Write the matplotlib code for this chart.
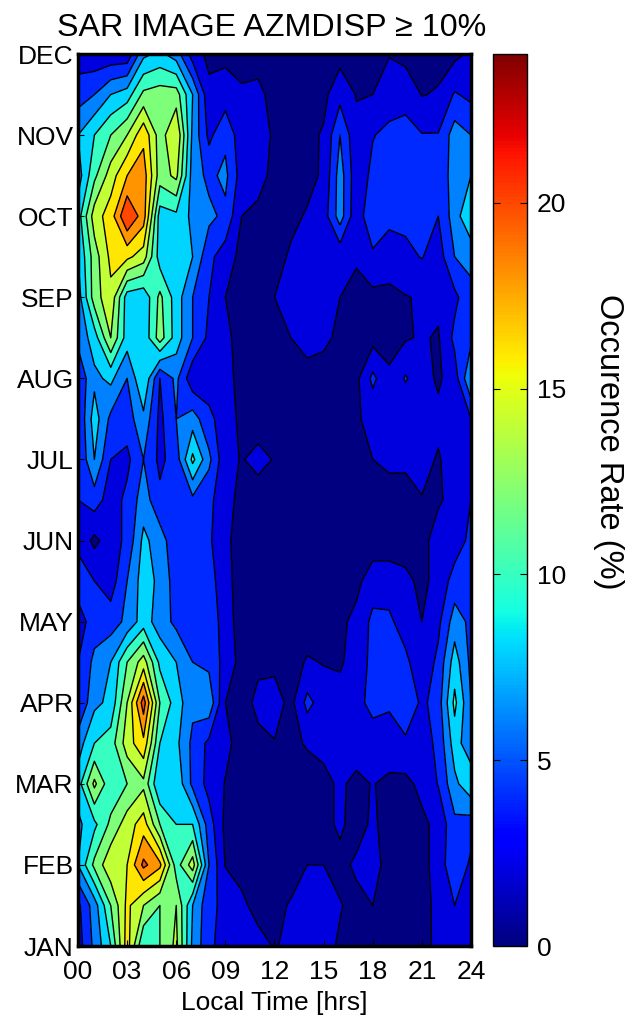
import numpy as np
import matplotlib
matplotlib.use('Agg')
import matplotlib.pyplot as plt

plt.rcParams['font.family'] = ['Liberation Sans', 'DejaVu Sans']

months = ['JAN', 'FEB', 'MAR', 'APR', 'MAY', 'JUN', 'JUL', 'AUG', 'SEP', 'OCT', 'NOV', 'DEC']
hours = list(range(25))
hour_ticks = [0, 3, 6, 9, 12, 15, 18, 21, 24]
hour_labels = ['00', '03', '06', '09', '12', '15', '18', '21', '24']
levels = [0, 2, 4, 6, 8, 10, 12, 14, 16, 18, 20, 22, 24]
cbar_ticks = [0, 5, 10, 15, 20]

# occurrence rate (%), hours 00..24
# one list per month and one for the middle of each month pair
jan = [3, 6.5, 10, 17, 10, 12, 14.5, 7.5, 4.5, 3, 2.5, 2.5, 1.9, 2.3, 3.8, 2.5, 1.8, 1.5, 1.2, 1.2, 1.2, 1.3, 2.5, 3, 2]
jan_feb = [3.5, 7, 12, 16.5, 14, 12, 14, 8, 4.5, 3.5, 2.3, 1.5, 1.4, 2.2, 2.5, 2.4, 2.1, 1.5, 2, 1.2, 1.2, 1.6, 2.3, 4, 3]
feb = [8, 12.5, 15.5, 16, 20.5, 18.5, 11, 15, 6, 1.9, 1.5, 1, 1, 1, 2, 2, 1.5, 2.3, 2.5, 1.5, 1.2, 1.6, 2.5, 6, 3.5]
feb_mar = [7.5, 9.5, 12.5, 15, 17, 12, 10, 10, 5, 1.5, 1.3, 1.2, 1.2, 1.2, 1.3, 1.5, 2.3, 1.3, 2.3, 1.3, 1.3, 1.6, 2.5, 5.5, 5]
mar = [9, 14.5, 10.5, 12, 13.5, 8, 9.5, 5.5, 3.3, 1.9, 1.2, 1, 1, 1, 1, 1.5, 2.3, 1.5, 2.1, 1.5, 1.5, 2.5, 4.1, 7.5, 9.5]
mar_apr = [7, 10, 11, 15, 17.5, 10, 8.5, 5.5, 3.5, 2.5, 1.2, 1.5, 1.9, 1.5, 2.2, 2.5, 3, 3, 3.2, 3.3, 3.5, 3, 4.5, 9, 6.5]
apr = [4, 7.5, 8.5, 14, 21, 12, 9, 6.5, 7.5, 2, 1.2, 2.5, 2.9, 1.4, 4.6, 3, 2.9, 3.5, 4.5, 4.2, 6, 3.5, 5, 10.5, 6]
apr_may = [4, 6.5, 8, 12, 15, 9.5, 8, 6, 5.5, 3.2, 1.3, 1.6, 1.5, 1.2, 2.2, 1.9, 1.7, 3, 4.5, 4.3, 4.5, 2.5, 4.5, 9, 5.5]
may = [3, 5, 5, 6.5, 9, 7, 5.5, 5, 6, 2.5, 1.5, 1, 1, 1, 1, 1, 1.6, 2.5, 4.5, 4.4, 3, 2, 3.5, 7, 5.5]
may_jun = [5, 4, 3, 6, 9, 7.5, 5, 4.5, 5, 2.5, 1.3, 1, 1, 1, 1, 1, 1.2, 1.5, 3, 3, 2.5, 1.5, 2.7, 4.8, 5]
jun = [3.5, 1.5, 3, 4.5, 8.5, 7, 4.5, 4.5, 4.3, 2.5, 1, 1, 1, 1, 1, 1, 1, 1, 1, 1, 1, 1.5, 2.7, 3, 4.5]
jun_jul = [4, 5, 3, 4.5, 7, 4.5, 5, 5.5, 4.5, 2.7, 1.4, 1.2, 1.2, 1, 1, 1, 1, 1, 1.2, 1.2, 1.4, 1.9, 1.8, 2.5, 4]
jul = [4, 8, 4, 3.5, 6, 3.5, 5, 10.5, 6.5, 2.5, 1.9, 2.5, 1.9, 1, 1, 1, 1, 1.5, 2, 2.4, 2.3, 2.7, 1.8, 3, 4]
jul_aug = [4, 9, 5.5, 5, 7.5, 3.5, 6, 7, 4.5, 3, 1.5, 1.2, 1.2, 1.2, 1.2, 1.2, 1.2, 1.8, 2.5, 2.5, 2.3, 2.7, 2.5, 3.5, 4]
aug = [4.5, 7.5, 8.5, 6, 10, 4, 6.5, 2.5, 3, 2.5, 1.5, 1, 1, 1, 1, 1, 1, 1.5, 4.5, 2.3, 4.2, 2.8, 1.7, 3, 8]
aug_sep = [6.5, 9, 14, 9, 8.5, 13, 9, 6, 3.5, 2.5, 1.2, 1.2, 1.2, 2, 3, 2.5, 1.5, 1.2, 1.3, 1.4, 1.8, 2.2, 1.8, 4.5, 5.5]
sep = [7, 13, 15.5, 9, 8.5, 12.5, 9, 6, 4, 2, 1.3, 1.3, 2, 3, 3, 3, 2, 1.5, 1.5, 1.5, 1.9, 2.2, 2.5, 3.5, 5.5]
sep_oct = [8, 13, 16.5, 16.5, 15, 9, 9, 8, 4.5, 3, 1.4, 1.2, 1.2, 2.3, 2.5, 2.5, 2.5, 2.2, 3.5, 3, 3.5, 4.1, 3, 6, 6.5]
oct_ = [9, 15, 17, 22, 19, 9, 9.5, 7.5, 6.5, 5.5, 2, 1.3, 1.3, 1.5, 2.2, 3, 7, 2.5, 6, 4.5, 4.5, 4.5, 4, 7, 10]
oct_nov = [7, 11.5, 15, 18, 19, 13, 14.5, 7, 5.5, 6.5, 3, 3, 1.2, 1.2, 1.4, 2.3, 7, 2.7, 4.5, 5, 4.5, 4, 4.5, 7, 8]
nov = [8, 10, 12, 14, 17.5, 13, 16, 7.5, 3.5, 5.5, 2.8, 3.5, 1.5, 1.2, 1.5, 2.2, 6, 2.5, 3.9, 4.5, 4.5, 4.1, 4.1, 7, 6]
nov_dec = [5, 6, 8, 9, 12.5, 13, 13, 8, 2.5, 3, 2.3, 2.5, 1.3, 1.2, 1.2, 1.5, 3.3, 1.9, 2, 3, 3.5, 1.9, 2.2, 4.2, 3.5]
dec = [3, 2.5, 2.5, 2.5, 7.5, 8.5, 7, 3, 1.5, 1.5, 1.2, 1.2, 1.2, 1.2, 1.2, 1.3, 1.3, 1.3, 1.3, 1.9, 1.3, 1.3, 1.3, 1.5, 2.3]

rate = np.array([jan, jan_feb, feb, feb_mar, mar, mar_apr, apr, apr_may, may, may_jun, jun, jun_jul,
                 jul, jul_aug, aug, aug_sep, sep, sep_oct, oct_, oct_nov, nov, nov_dec, dec])
month_pos = np.arange(len(months))
row_pos = np.arange(rate.shape[0]) / 2

W, H = 643, 1017
fig = plt.figure(figsize=(W / 100, H / 100), dpi=100)
ax = fig.add_axes([78 / W, 1 - 946 / H, 393 / W, 892 / H])
cax = fig.add_axes([493 / W, 1 - 946 / H, 34 / W, 892 / H])

# each band takes the colour of its lower level, like matlab contourf
band_colors = [plt.cm.jet(l / 24) for l in levels[:-1]]
ax.contourf(hours, row_pos, rate, levels=levels, colors=band_colors)
ax.contour(hours, row_pos, rate, levels=levels[1:-1], colors='black', linewidths=1.0)

ax.set_xlim(0, 24)
ax.set_ylim(0, 11)
ax.set_xticks(hour_ticks)
ax.set_xticklabels(hour_labels, fontsize=19)
ax.set_yticks(month_pos)
ax.set_yticklabels(months, fontsize=19)
ax.tick_params(axis='y', direction='in', length=4, width=0.8, pad=3)
ax.tick_params(axis='x', direction='in', length=4, width=0.8, pad=10)
ax.set_xlabel('Local Time [hrs]', fontsize=19, labelpad=5)
ax.set_title('SAR IMAGE AZMDISP \u2265 10%', fontsize=23.2, pad=13, x=0.493)
for s in ax.spines.values():
    s.set_linewidth(2.5)

sm = plt.cm.ScalarMappable(norm=plt.Normalize(0, 24), cmap='jet')
cb = fig.colorbar(sm, cax=cax)
cb.set_ticks(cbar_ticks)
cb.ax.tick_params(labelsize=19, direction='in', length=5, width=0.8, left=True, right=True, pad=7)
cb.outline.set_linewidth(1.0)
cb.set_label('Occurence Rate (%)', fontsize=23.5, rotation=-90, va='center')
cb.ax.yaxis.set_label_coords(3.4, 0.565)

fig.savefig('out.png', dpi=100)
